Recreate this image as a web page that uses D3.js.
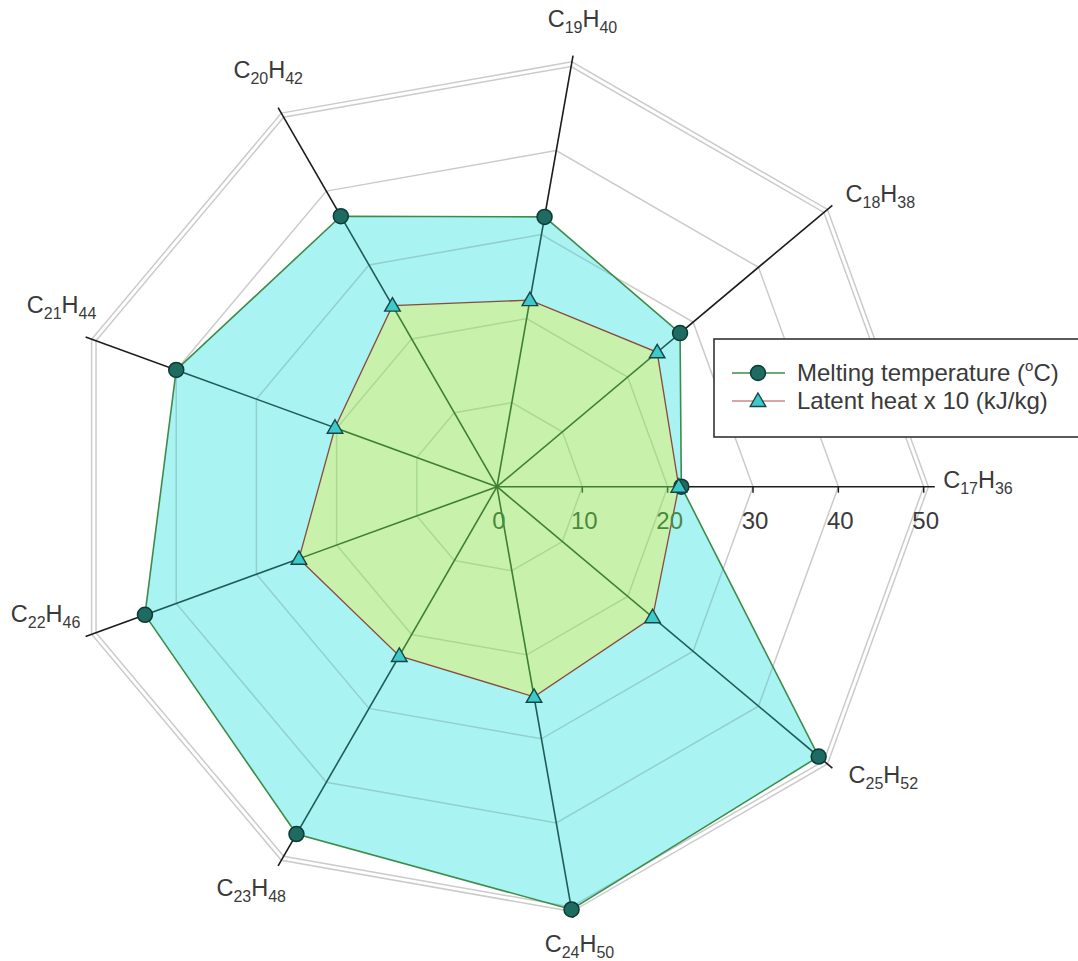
<!DOCTYPE html>
<html>
<head>
<meta charset="utf-8">
<script src="https://cdn.jsdelivr.net/npm/d3@7"></script>
<style>
  body { margin: 0; background: #fff; }
  svg { display: block; font-family: "Liberation Sans", Arial, sans-serif; }
</style>
</head>
<body>
<svg id="chart" width="1078" height="961"></svg>
<script>
// Alkanes on the radar axes (counter-clockwise from the right)
const categories = ["C17H36", "C18H38", "C19H40", "C20H42", "C21H44", "C22H46", "C23H48", "C24H50", "C25H52"];
// Melting temperature, °C
const meltingTemp = [21.6, 28.0, 32.1, 36.6, 40.0, 43.9, 47.0, 50.3, 49.2];
// Latent heat (kJ/kg) divided by 10
const latentHeat = [21.3, 24.5, 22.2, 24.5, 20.2, 24.7, 22.9, 25.0, 23.8];
const tickValues = [0, 10, 20, 30, 40, 50];
const seriesNames = ["Melting temperature (", "Latent heat x 10 (kJ/kg)"];

// Label offsets (px) from the label anchor point on each axis
const labelNudge = [[-1, 1], [6, 3], [-27, -19], [-40, -21], [-50, -21], [-66, -18], [-57, 22], [-30, 25], [9, 9]];

const svg = d3.select("#chart");
const cx = 497, cy = 486.7;
const n = categories.length;
const r = d3.scaleLinear().domain([0, 50]).range([0, 426.7]);
const angle = i => i * 2 * Math.PI / n;
const pt = (i, v) => [cx + r(v) * Math.cos(angle(i)), cy - r(v) * Math.sin(angle(i))];
const ring = d3.line().curve(d3.curveLinearClosed);
const ringAt = v => ring(categories.map((_, i) => pt(i, v)));
const meltPath = ring(meltingTemp.map((v, i) => pt(i, v)));
const latentPath = ring(latentHeat.map((v, i) => pt(i, v)));
const spokeEnd = 51.3;

const defs = svg.append("defs");
defs.append("clipPath").attr("id", "clipMelt").append("path").attr("d", meltPath);
defs.append("clipPath").attr("id", "clipLatent").append("path").attr("d", latentPath);

// grid rings (outer ring doubled)
const gridVals = tickValues.filter(v => v > 0).concat([50.55]);
svg.append("g").selectAll("path").data(gridVals).join("path")
  .attr("d", d => ringAt(d))
  .attr("fill", "none")
  .attr("stroke", "#cbcbcb")
  .attr("stroke-width", 1.5);

// spokes
function drawSpokes(g, color, width) {
  g.selectAll("line").data(categories).join("line")
    .attr("x1", cx).attr("y1", cy)
    .attr("x2", (d, i) => pt(i, spokeEnd)[0])
    .attr("y2", (d, i) => pt(i, spokeEnd)[1])
    .attr("stroke", color).attr("stroke-width", width);
}
drawSpokes(svg.append("g"), "#1c1c1c", 1.6);

// ticks along the first axis
svg.append("g").selectAll("line").data(tickValues.filter(v => v > 0)).join("line")
  .attr("x1", d => cx + r(d)).attr("x2", d => cx + r(d))
  .attr("y1", cy).attr("y2", cy + 6)
  .attr("stroke", "#1c1c1c").attr("stroke-width", 1.5);

// melting temperature area
svg.append("path").attr("d", meltPath).attr("fill", "#a9f3f3").attr("stroke", "none");
const gMelt = svg.append("g").attr("clip-path", "url(#clipMelt)");
gMelt.selectAll("path").data(gridVals).join("path")
  .attr("d", d => ringAt(d)).attr("fill", "none")
  .attr("stroke", "#93cfcf").attr("stroke-width", 1.5);
drawSpokes(gMelt.append("g"), "#1f5c58", 1.6);

// latent heat area
svg.append("path").attr("d", latentPath).attr("fill", "#c8f2ab").attr("stroke", "none");
const gLat = svg.append("g").attr("clip-path", "url(#clipLatent)");
gLat.selectAll("path").data(gridVals).join("path")
  .attr("d", d => ringAt(d)).attr("fill", "none")
  .attr("stroke", "#abd898").attr("stroke-width", 1.5);
drawSpokes(gLat.append("g"), "#3f7f35", 1.6);
gLat.selectAll("line.tick").data(tickValues.filter(v => v > 0)).join("line")
  .attr("class", "tick")
  .attr("x1", d => cx + r(d)).attr("x2", d => cx + r(d))
  .attr("y1", cy).attr("y2", cy + 6)
  .attr("stroke", "#3f7f35").attr("stroke-width", 1.5);

// outlines
svg.append("path").attr("d", meltPath).attr("fill", "none").attr("stroke", "#3d8c4a").attr("stroke-width", 1.6);
svg.append("path").attr("d", latentPath).attr("fill", "none").attr("stroke", "#8a4a3c").attr("stroke-width", 1.3);

// tick labels
svg.append("g").selectAll("text").data(tickValues).join("text")
  .attr("x", d => cx + r(d) + 2)
  .attr("y", cy + 42)
  .attr("text-anchor", "middle")
  .attr("font-size", 24)
  .attr("fill", d => d < latentHeat[0] ? "#4a8a3e" : "#3a3a3a")
  .text(d => d);

// markers
svg.append("g").selectAll("circle").data(meltingTemp).join("circle")
  .attr("cx", (d, i) => pt(i, d)[0])
  .attr("cy", (d, i) => pt(i, d)[1])
  .attr("r", 7.5)
  .attr("fill", "#1e6b62").attr("stroke", "#0e3a34").attr("stroke-width", 1.5);
const tri = d3.symbol(d3.symbolTriangle, 105);
svg.append("g").selectAll("path").data(latentHeat).join("path")
  .attr("d", tri)
  .attr("transform", (d, i) => `translate(${pt(i, d)[0]},${pt(i, d)[1] + 1})`)
  .attr("fill", "#3ccaca").attr("stroke", "#1b4444").attr("stroke-width", 1.4);

// axis labels with subscripts
const labels = svg.append("g").attr("fill", "#3a3a3a");
categories.forEach((c, i) => {
  const m = c.match(/^([A-Z])(\d+)([A-Z])(\d+)$/);
  const [px, py] = pt(i, 52.4);
  const t = labels.append("text")
    .attr("x", px + labelNudge[i][0])
    .attr("y", py + labelNudge[i][1])
    .attr("font-size", 23.5);
  t.append("tspan").text(m[1]);
  t.append("tspan").attr("font-size", 16).attr("dy", 6).text(m[2]);
  t.append("tspan").attr("dy", -6).text(m[3]);
  t.append("tspan").attr("font-size", 16).attr("dy", 6).text(m[4]);
});

// legend
const lg = svg.append("g");
lg.append("rect").attr("x", 714).attr("y", 339).attr("width", 380).attr("height", 98)
  .attr("fill", "#fff").attr("stroke", "#333").attr("stroke-width", 1.6);
const rows = [373, 401];
lg.append("line").attr("x1", 732).attr("x2", 785).attr("y1", rows[0]).attr("y2", rows[0])
  .attr("stroke", "#3d8c4a").attr("stroke-width", 1.6);
lg.append("circle").attr("cx", 758).attr("cy", rows[0]).attr("r", 7.5)
  .attr("fill", "#1e6b62").attr("stroke", "#0e3a34").attr("stroke-width", 1.5);
lg.append("line").attr("x1", 732).attr("x2", 785).attr("y1", rows[1]).attr("y2", rows[1])
  .attr("stroke", "#c98a8a").attr("stroke-width", 1.6);
lg.append("path").attr("d", tri).attr("transform", `translate(758,${rows[1] + 1})`)
  .attr("fill", "#3ccaca").attr("stroke", "#1b4444").attr("stroke-width", 1.4);
const t1 = lg.append("text").attr("x", 797).attr("y", rows[0] + 8).attr("font-size", 24).attr("fill", "#3a3a3a");
t1.append("tspan").text(seriesNames[0]);
t1.append("tspan").attr("font-size", 15).attr("dy", -10).text("o");
t1.append("tspan").attr("dy", 10).text("C)");
lg.append("text").attr("x", 797).attr("y", rows[1] + 8).attr("font-size", 24).attr("fill", "#3a3a3a")
  .text(seriesNames[1]);
</script>
</body>
</html>
